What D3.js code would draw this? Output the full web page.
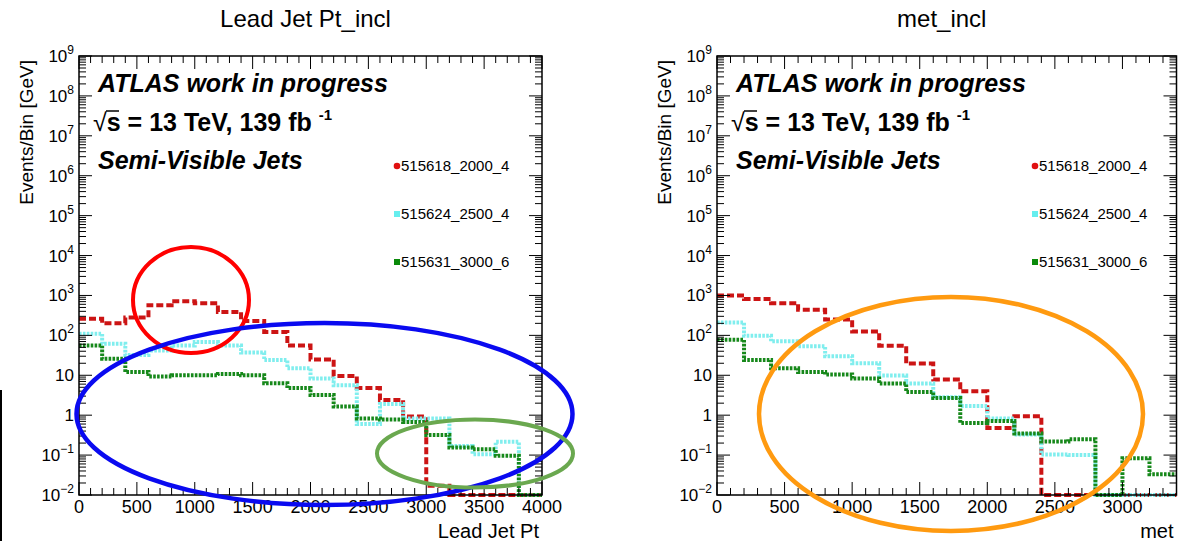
<!DOCTYPE html>
<html><head><meta charset="utf-8">
<script src="https://cdn.jsdelivr.net/npm/d3@7"></script>
<style>
body{margin:0;background:#fff}
svg{display:block}
text{font-family:"Liberation Sans",Arial,Helvetica,sans-serif;fill:#000}
</style>
</head><body>
<svg id="chart" width="1186" height="541"></svg>
<script>
// ---------------- data ----------------
const binWidth = 200;
const seriesNames = ["515618_2000_4", "515624_2500_4", "515631_3000_6"];
const seriesColors = ["#cc1414", "#80eeee", "#16881a"];

// Lead Jet Pt_incl, bins of 200 GeV from 0 to 4000
const leadJetPtRed   = [260, 200, 280, 570, 720, 640, 385, 228, 121, 56, 25, 9.6, 4.8, 2.4, 0.93, 0.017, 0, 0, 0, 0];
const leadJetPtCyan  = [110, 62, 32, 42, 56, 68, 56, 37, 24, 15, 8.3, 5.6, 0.6, 1.9, 0.83, 0.83, 0.17, 0.105, 0.215, 0];
const leadJetPtGreen = [56, 26, 12, 9.3, 10, 10, 10.8, 10, 6.3, 4.8, 3.2, 1.65, 0.83, 0.78, 0.67, 0.32, 0.155, 0.14, 0.096, 0];

// met_incl, bins of 200 GeV from 0 to 3400
const metRed   = [1000, 820, 640, 440, 250, 125, 55, 19.6, 7.8, 4.0, 0.48, 0.94, 0, 0, 0, 0, 0];
const metCyan  = [210, 98, 71, 53, 30, 20, 9.8, 6.2, 2.8, 1.7, 0.83, 0.33, 0.104, 0.1, 0, 0, 0];
const metGreen = [78, 24, 15, 12, 10.4, 8.3, 6.2, 3.8, 2.7, 0.64, 0.71, 0.35, 0.22, 0.25, 0, 0.083, 0.033];

const yTickExponents = [-2, -1, 0, 1, 2, 3, 4, 5, 6, 7, 8, 9];
const leftXTicks  = [0, 500, 1000, 1500, 2000, 2500, 3000, 3500, 4000];
const rightXTicks = [0, 500, 1000, 1500, 2000, 2500, 3000];

const panels = [
  {title: "Lead Jet Pt_incl", xTitle: "Lead Jet Pt", xMax: 4000, xTicks: leftXTicks,
   series: [leadJetPtRed, leadJetPtCyan, leadJetPtGreen], left: 79, right: 542},
  {title: "met_incl", xTitle: "met", xMax: 3400, xTicks: rightXTicks,
   series: [metRed, metCyan, metGreen], left: 717, right: 1176.5}
];

const frameTop = 56, frameBottom = 495;
const yMin = 0.01, yMax = 1e9;
const svg = d3.select("#chart");

// artifact line at the very left edge of the reference image
svg.append("line").attr("x1", 1).attr("x2", 1).attr("y1", 390).attr("y2", 541)
  .attr("stroke", "#000").attr("stroke-width", 2);

panels.forEach((p, pi) => {
  const x = d3.scaleLinear().domain([0, p.xMax]).range([p.left, p.right]);
  const y = d3.scaleLog().domain([yMin, yMax]).range([frameBottom, frameTop]);
  const g = svg.append("g");

  // title
  g.append("text").attr("x", (p.left + p.right) / 2 - 5).attr("y", 27)
    .attr("text-anchor", "middle").attr("font-size", 24).text(p.title);

  // histograms
  const styles = [
    {dash: "7,3", w: 4},
    {dash: "2.6,1.3", w: 4},
    {dash: "2.6,1.3", w: 4}
  ];
  p.series.forEach((vals, si) => {
    const pts = [];
    vals.forEach((v, i) => {
      pts.push([i * binWidth, v]);
      pts.push([(i + 1) * binWidth, v]);
    });
    const line = d3.line()
      .x(d => x(d[0]))
      .y(d => y(Math.max(d[1], yMin)));
    g.append("path").attr("d", line(pts)).attr("fill", "none")
      .attr("stroke", seriesColors[si]).attr("stroke-width", styles[si].w)
      .attr("stroke-dasharray", styles[si].dash);
  });

  // frame
  g.append("rect").attr("x", p.left).attr("y", frameTop)
    .attr("width", p.right - p.left).attr("height", frameBottom - frameTop)
    .attr("fill", "none").attr("stroke", "#000").attr("stroke-width", 1.5);

  // x ticks (bottom + top, inward)
  const minorX = d3.range(0, p.xMax + 1, 100);
  minorX.forEach(v => {
    const major = v % 500 === 0;
    const len = major ? 13 : 7;
    g.append("line").attr("x1", x(v)).attr("x2", x(v)).attr("y1", frameBottom).attr("y2", frameBottom - len)
      .attr("stroke", "#000").attr("stroke-width", 1);
    g.append("line").attr("x1", x(v)).attr("x2", x(v)).attr("y1", frameTop).attr("y2", frameTop + len)
      .attr("stroke", "#000").attr("stroke-width", 1);
  });
  p.xTicks.forEach(v => {
    g.append("text").attr("x", x(v)).attr("y", 513).attr("text-anchor", "middle")
      .attr("font-size", 18).text(v);
  });

  // y ticks (left + right, inward)
  const yTicks = [];
  for (let e = -2; e < 9; e++) for (let m = 1; m < 10; m++) yTicks.push([m * Math.pow(10, e), m === 1]);
  yTicks.push([1e9, true]);
  yTicks.forEach(([v, major]) => {
    const len = major ? 13 : 7;
    g.append("line").attr("x1", p.left).attr("x2", p.left + len).attr("y1", y(v)).attr("y2", y(v))
      .attr("stroke", "#000").attr("stroke-width", 1);
    g.append("line").attr("x1", p.right).attr("x2", p.right - len).attr("y1", y(v)).attr("y2", y(v))
      .attr("stroke", "#000").attr("stroke-width", 1);
  });
  yTickExponents.forEach(e => {
    const t = g.append("text").attr("x", p.left - 5).attr("y", y(Math.pow(10, e)) + 6)
      .attr("text-anchor", "end").attr("font-size", 17);
    if (e === 0) { t.text("1"); }
    else if (e === 1) { t.text("10"); }
    else {
      t.append("tspan").text("10");
      t.append("tspan").attr("font-size", 12).attr("dy", -8)
        .text(e < 0 ? "\u2212" + (-e) : String(e));
    }
  });

  // axis titles
  g.append("text").attr("transform", `translate(${p.left - 46},${frameTop + 4}) rotate(-90)`)
    .attr("text-anchor", "end").attr("font-size", 19).text("Events/Bin [GeV]");
  g.append("text").attr("x", p.right - 3).attr("y", 538).attr("text-anchor", "end")
    .attr("font-size", 20).text(p.xTitle);

  // ATLAS labels
  g.append("text").attr("x", p.left + 19).attr("y", 92).attr("font-size", 25)
    .attr("font-weight", "bold").attr("font-style", "italic").text("ATLAS work in progress");
  const s = g.append("text").attr("x", p.left + 14).attr("y", 131).attr("font-size", 25)
    .attr("font-weight", "bold");
  s.append("tspan").attr("font-weight", "normal").text("\u221A");
  s.append("tspan").text("s = 13 TeV, 139 fb ");
  s.append("tspan").attr("font-size", 15).attr("dy", -11).text("-1");
  g.append("line").attr("x1", p.left + 27).attr("x2", p.left + 40).attr("y1", 111).attr("y2", 111)
    .attr("stroke", "#000").attr("stroke-width", 1.5);
  g.append("text").attr("x", p.left + 19).attr("y", 169).attr("font-size", 25)
    .attr("font-weight", "bold").attr("font-style", "italic").text("Semi-Visible Jets");

  // legend
  const legY = [166, 214, 262];
  seriesNames.forEach((name, si) => {
    const mx = p.left + 318;
    if (si === 0) {
      g.append("circle").attr("cx", mx).attr("cy", legY[si]).attr("r", 3.3).attr("fill", "#e01010");
    } else {
      g.append("rect").attr("x", mx - 3).attr("y", legY[si] - 3).attr("width", 6).attr("height", 6)
        .attr("fill", si === 1 ? "#66eeee" : "#0a8a0a");
    }
    g.append("text").attr("x", mx + 4).attr("y", legY[si] + 5).attr("font-size", 15).text(name);
  });
});

// annotation ellipses
const ellipses = [
  {cx: 191, cy: 300, rx: 58, ry: 53, color: "#ff0000", w: 4},
  {cx: 324.5, cy: 414, rx: 248, ry: 91, color: "#0a0af0", w: 4.5},
  {cx: 475, cy: 453.5, rx: 98, ry: 34, color: "#6aa84f", w: 4},
  {cx: 951, cy: 414, rx: 192, ry: 117, color: "#ff9a10", w: 4.5}
];
svg.append("g").selectAll("ellipse").data(ellipses).join("ellipse")
  .attr("cx", d => d.cx).attr("cy", d => d.cy).attr("rx", d => d.rx).attr("ry", d => d.ry)
  .attr("fill", "none").attr("stroke", d => d.color).attr("stroke-width", d => d.w);
</script>
</body></html>
